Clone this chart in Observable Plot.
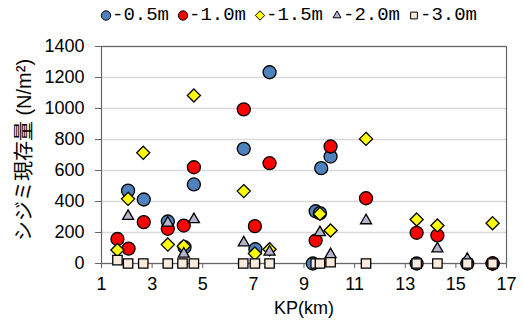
<!DOCTYPE html>
<html><head><meta charset="utf-8">
<script src="https://cdn.jsdelivr.net/npm/d3@7"></script>
<script src="https://cdn.jsdelivr.net/npm/@observablehq/plot@0.6"></script>
<style>
body{margin:0;background:#fff;}
#legend{height:30px;display:flex;align-items:center;padding-left:100px;font-family:"Liberation Mono",monospace;font-size:19px;color:#000;}
.item{display:flex;align-items:center;width:77px;}
.item svg{display:block;}
</style></head><body>
<div id="legend"></div><div id="chart"></div>
<script>
const series = ["-0.5m","-1.0m","-1.5m","-2.0m","-3.0m"];
const xTicks = [1,3,5,7,9,11,13,15,17];
const yTicks = [0,200,400,600,800,1000,1200,1400];
const yTitle = ["シジミ現存量 (N/m²)"];

const kp05 = [2.05,2.67,3.62,4.28,4.65,6.62,7.08,7.64,9.35,9.46,9.63,9.68,10.05,13.45,15.45,16.45];
const v05  = [470, 413, 271, 105, 510, 740, 92, 1234, 0, 337, 325, 615, 690, 0, 0, 0];
const kp10 = [1.63,2.07,2.67,3.62,4.25,4.65,6.62,7.06,7.64,9.46,10.05,11.45,13.45,14.27,16.45];
const v10  = [158, 96, 267, 224, 245, 621, 994, 241, 647, 148, 755, 421, 198, 181, 0];
const kp15 = [1.63,2.05,2.65,3.62,4.25,4.65,6.62,7.06,7.64,9.63,10.05,11.45,13.45,14.27,16.45];
const v15  = [87, 417, 714, 122, 112, 1084, 467, 64, 92, 320, 213, 804, 284, 245, 260];
const kp20 = [2.05,3.62,4.25,4.65,6.62,7.64,9.63,10.05,11.45,14.27,15.45];
const v20  = [305, 262, 62, 284, 134, 75, 200, 58, 277, 95, 28];
const kp30 = [1.63,2.05,2.65,3.62,4.2,4.65,6.6,7.06,7.64,9.46,9.63,10.05,11.45,13.45,14.27,15.45,16.45];
const v30  = [22, 0, 0, 0, 0, 0, 0, 0, 0, 0, 0, 8, 0, 0, 0, 0, 0];

const kps = [kp05,kp10,kp15,kp20,kp30];
const vals = [v05,v10,v15,v20,v30];
const styles = [
  {symbol:"circle", fill:"#4F81BD", r:6.5},
  {symbol:"circle", fill:"#FF0000", r:6.5},
  {symbol:"diamond2", fill:"#FFFF00", r:5.9},
  {symbol:"triangle", fill:"#B4B4CC", r:4.1},
  {symbol:"square", fill:"#FBEBDD", r:5.3}
];
const d3sym = {circle:d3.symbolCircle, diamond2:d3.symbolDiamond2, triangle:d3.symbolTriangle, square:d3.symbolSquare};

const data = series.map((s,i)=>kps[i].map((k,j)=>({series:s, kp:k, v:vals[i][j]})));

// legend
const leg = d3.select("#legend");
series.forEach((s,i)=>{
  const it = leg.append("div").attr("class","item");
  const sv = it.append("svg").attr("width",12).attr("height",14);
  const r = styles[i].r*0.72;
  sv.append("path").attr("transform","translate(6,7.5)")
    .attr("d", d3.symbol(d3sym[styles[i].symbol], r*r*Math.PI)())
    .attr("fill", styles[i].fill).attr("stroke","#000").attr("stroke-width",1);
  it.append("span").text(s);
});

const plot = Plot.plot({
  width: 523, height: 294,
  marginLeft: 101, marginRight: 17, marginTop: 16, marginBottom: 61,
  style: {fontFamily: "'Liberation Sans', 'Noto Sans CJK JP', sans-serif", fontSize: "18px", color: "#000", background: "#fff", overflow: "visible"},
  x: {domain: [1,17]},
  y: {domain: [0,1400]},
  marks: [
    Plot.gridY(yTicks, {stroke: "#D9D9D9", strokeOpacity: 1, strokeWidth: 1.4}),
    Plot.frame({stroke: "#666", strokeWidth: 1.2}),
    Plot.axisX({ticks: xTicks, tickSize: 5, tickPadding: 9, stroke: "#666", label: null}),
    Plot.axisX({ticks: [], label: "KP(km)", labelAnchor: "center", labelOffset: 50, labelArrow: "none"}),
    Plot.axisY({ticks: yTicks, tickFormat: d => String(d), tickSize: 6, tickPadding: 11, stroke: "#666", label: null}),
    Plot.text(yTitle, {text: d => d, frameAnchor: "left", textAnchor: "middle", rotate: -90, dx: -77, dy: -5, fontSize: 20, lineAnchor: "middle", fill: "#000"}),
    ...data.map((rows,i)=>Plot.dot(rows, {x: "kp", y: "v", symbol: styles[i].symbol, fill: styles[i].fill, stroke: "#000", strokeWidth: 1.3, r: styles[i].r}))
  ]
});
document.getElementById("chart").appendChild(plot);
</script>
</body></html>
